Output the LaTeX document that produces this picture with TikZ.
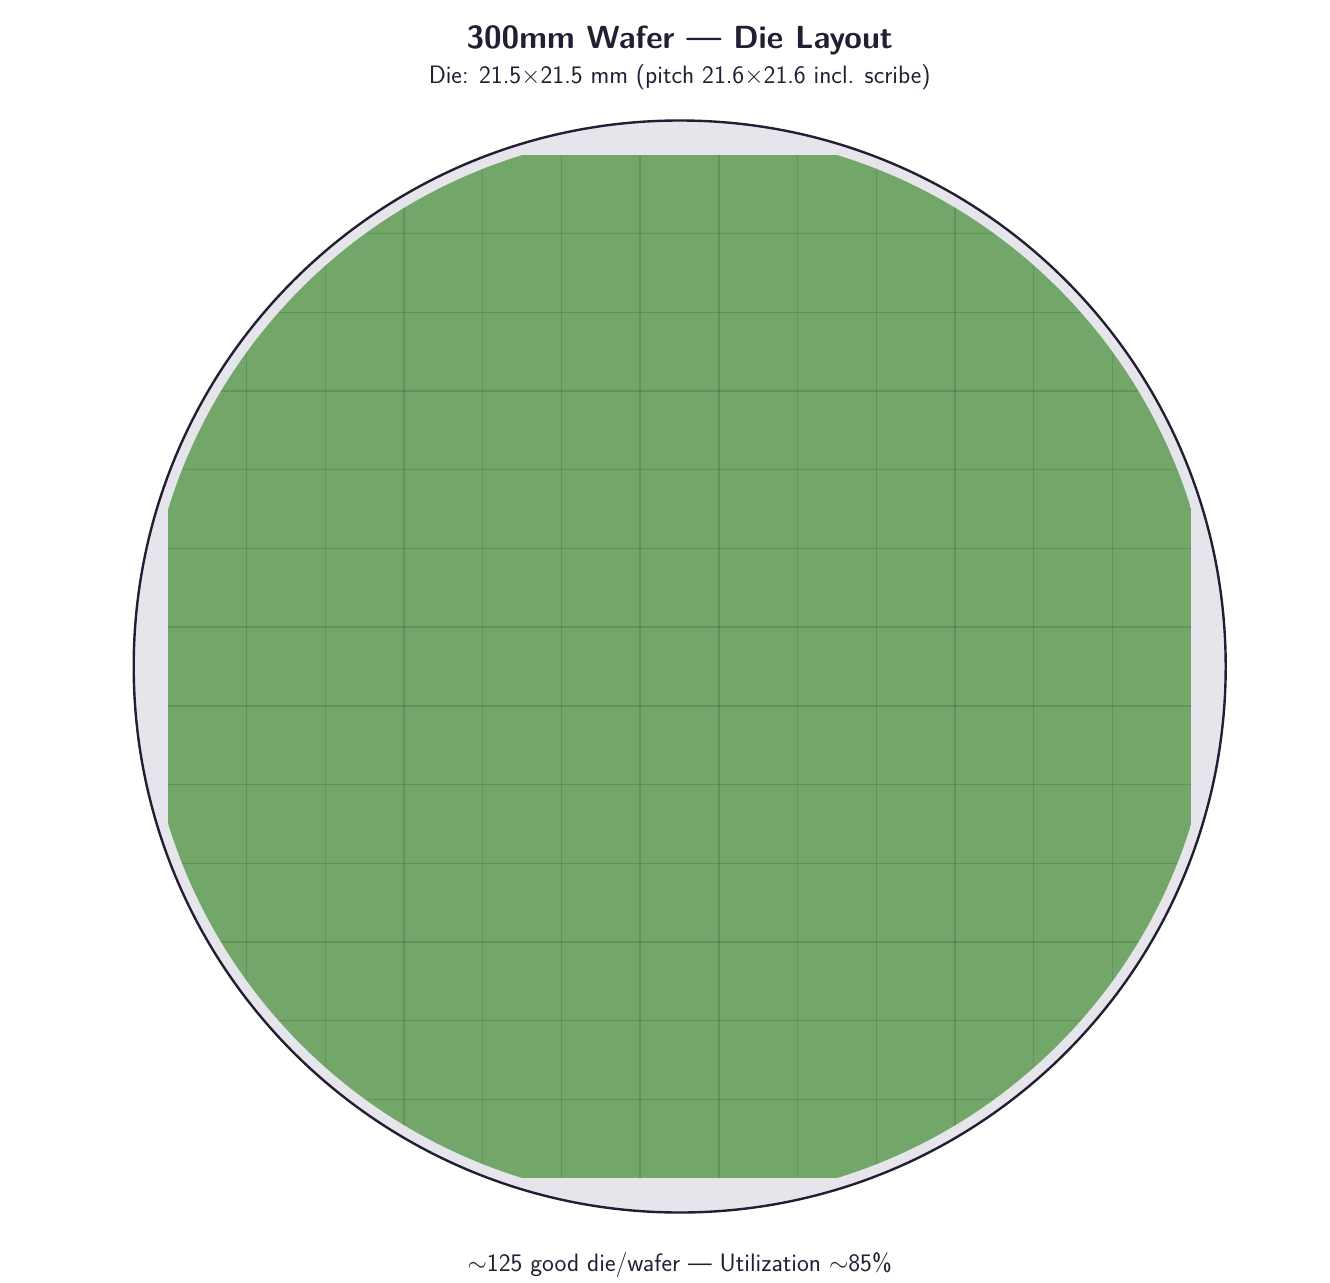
\documentclass[tikz,border=0pt]{standalone}
\usetikzlibrary{calc}
\definecolor{wafer}{RGB}{230,229,235}
\definecolor{rim}{RGB}{34,30,52}
\definecolor{die}{RGB}{115,167,106}
\definecolor{ink}{RGB}{34,30,52}
\tikzset{
  titletext/.style={font=\sffamily\bfseries\fontsize{32}{36}\selectfont, text=ink, inner sep=0pt},
  subtext/.style={font=\sffamily\fontsize{25.2}{28}\selectfont, text=ink, inner sep=0pt},
  gridline/.style={draw=black, opacity=0.13, line width=1.4pt}
}
\begin{document}
\begin{tikzpicture}[x=1pt,y=-1pt]
\useasboundingbox (0,0) rectangle (1330,1282);
\coordinate (c) at (679.7,666.5);
% wafer
\fill[wafer] (c) circle (546);
% dies clipped to edge exclusion
\begin{scope}
  \clip (c) circle (535);
  \fill[die] (168,155) rectangle (1191,1178);
  \foreach \i in {1,...,12}{
    \draw[gridline] ({168+\i*78.69},155) -- ({168+\i*78.69},1178);
    \draw[gridline] (168,{155+\i*78.69}) -- (1191,{155+\i*78.69});
  }
\end{scope}
\draw[rim, line width=2.4pt] (c) circle (546);
% texts
\node[titletext] (title) at (679.7,40) {300mm Wafer --- Die Layout};
\node[subtext] (sub) at (679.7,77) {Die: 21.5$\times$21.5 mm (pitch 21.6$\times$21.6 incl. scribe)};
\node[subtext] (foot) at (679.7,1265) {$\sim$125 good die/wafer --- Utilization $\sim$85\%};
\end{tikzpicture}
\end{document}
